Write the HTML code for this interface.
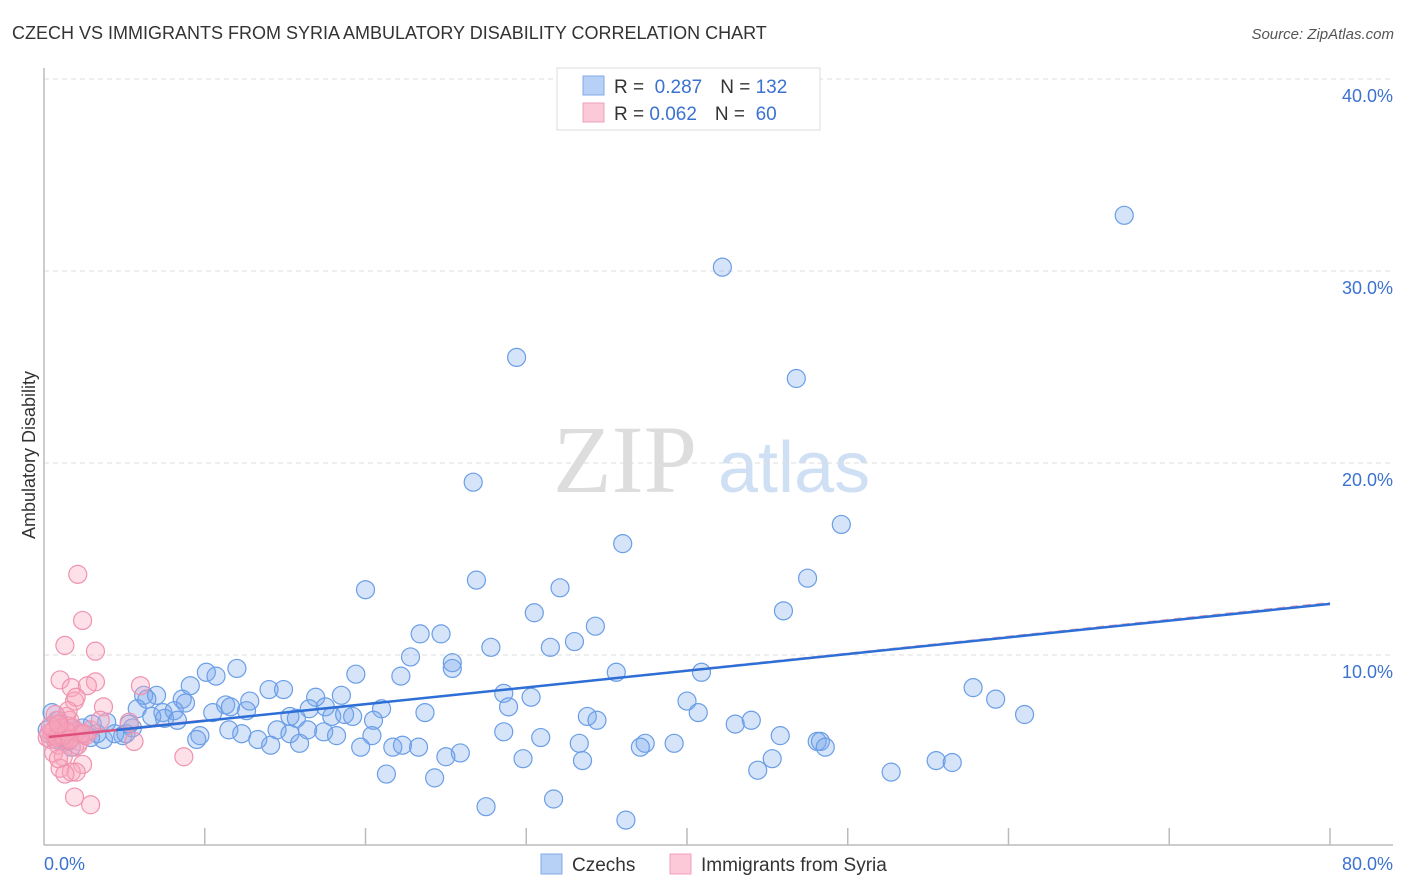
<!DOCTYPE html>
<html><head><meta charset="utf-8"><style>
body{margin:0;background:#fff;font-family:"Liberation Sans",sans-serif;}
svg{display:block}
</style></head><body>
<svg id="chart" width="1406" height="892" xmlns="http://www.w3.org/2000/svg">
<text x="12" y="39" font-size="18" fill="#333">CZECH VS IMMIGRANTS FROM SYRIA AMBULATORY DISABILITY CORRELATION CHART</text>
<text x="1394" y="39" font-size="15" fill="#555" font-style="italic" text-anchor="end">Source: ZipAtlas.com</text>
<g><text x="553" y="492" font-size="96" fill="#ddd" font-family="Liberation Serif,serif">ZIP</text><text x="718" y="492" font-size="72" fill="#cfe0f5">atlas</text></g>
<g id="grid"></g>
<g id="axes"></g>
<g id="marks"></g>
<g id="trends"></g>
<text x="35" y="455" font-size="18" fill="#333" text-anchor="middle" transform="rotate(-90 35 455)">Ambulatory Disability</text>
<text x="44" y="870" font-size="18" fill="#3b72d0">0.0%</text>
<text x="1393" y="870" font-size="18" fill="#3b72d0" text-anchor="end">80.0%</text>
<g>
<rect x="557" y="68" width="263" height="62" fill="#fff" stroke="#ddd"/>
<rect x="583" y="76" width="21" height="19" fill="#b7d0f5" stroke="#80a8e8"/>
<rect x="583" y="103" width="21" height="19" fill="#fbc9d8" stroke="#f0a0b8"/>
<text x="614" y="93" font-size="19" fill="#333">R = <tspan fill="#3b72d0">&#160;0.287</tspan><tspan dx="18">N = </tspan><tspan fill="#3b72d0">132</tspan></text>
<text x="614" y="120" font-size="19" fill="#333">R = <tspan fill="#3b72d0">0.062</tspan><tspan dx="18">N = </tspan><tspan fill="#3b72d0">&#160;60</tspan></text>
</g>
<g>
<rect x="541" y="854" width="21" height="20" fill="#b7d0f5" stroke="#80a8e8"/>
<text x="572" y="871" font-size="19" fill="#333">Czechs</text>
<rect x="670" y="854" width="21" height="20" fill="#fbc9d8" stroke="#f0a0b8"/>
<text x="701" y="871" font-size="19" fill="#333">Immigrants from Syria</text>
</g>
</svg>
<script>
const yTicks=[10,20,30,40];
const yTickLabels=["10.0%","20.0%","30.0%","40.0%"];
const xTicks=[10,20,30,40,50,60,70,80];
const czechX=[67.2,42.2,29.4,46.8,26.7,49.6,36.0,20.0,26.9,32.1,47.5,30.5,46.0,34.3,23.4,24.7,33.0,27.8,31.5,22.8,25.4,25.4,12.0,10.1,10.7,19.4,22.2,35.6,40.9,57.8,59.2,61.0,14.0,14.9,9.1,6.2,7.0,8.6,16.9,18.5,28.6,30.3,40.0,6.4,8.8,11.3,12.8,11.6,5.8,7.4,8.1,12.6,10.5,17.5,16.5,21.0,28.9,40.7,15.3,15.7,17.9,18.7,19.2,23.7,33.8,34.4,6.7,7.5,8.3,20.5,43.0,44.0,3.9,5.3,11.5,14.5,12.3,15.3,16.4,17.4,28.6,45.8,9.7,13.3,14.1,15.9,18.2,20.4,30.9,48.1,48.3,48.6,37.4,39.2,9.5,19.7,21.7,22.3,23.3,33.3,37.1,25.9,25.0,29.8,33.5,45.3,55.5,56.5,44.4,52.7,21.3,24.3,27.5,31.7,36.2,0.5,0.9,1.2,1.5,1.9,2.4,2.9,3.3,3.7,4.4,4.9,5.1,5.5,3.0,0.2,0.7,1.7];
const czechY=[32.9,30.2,25.5,24.4,19.0,16.8,15.8,13.4,13.9,13.5,14.0,12.2,12.3,11.5,11.1,11.1,10.7,10.4,10.4,9.9,9.6,9.3,9.3,9.1,8.9,9.0,8.9,9.1,9.1,8.3,7.7,6.9,8.2,8.2,8.4,7.9,7.9,7.7,7.8,7.9,8.0,7.8,7.6,7.7,7.5,7.4,7.6,7.3,7.2,7.0,7.1,7.1,7.0,7.3,7.2,7.2,7.3,7.0,6.8,6.7,6.8,6.9,6.8,7.0,6.8,6.6,6.8,6.7,6.6,6.6,6.4,6.6,6.5,6.4,6.1,6.1,5.9,5.9,6.1,6.0,6.0,5.8,5.8,5.6,5.3,5.4,5.8,5.8,5.7,5.5,5.5,5.2,5.4,5.4,5.6,5.2,5.2,5.3,5.2,5.4,5.2,4.9,4.7,4.6,4.5,4.6,4.5,4.4,4.0,3.9,3.8,3.6,2.1,2.5,1.4,7.0,6.6,5.7,5.5,6.1,6.2,5.7,5.9,5.6,5.9,5.8,5.9,6.2,6.4,6.1,5.6,5.2];
const syriaX=[2.1,2.4,1.3,3.2,1.0,1.7,1.9,1.4,3.2,2.7,6.0,2.0,3.7,5.3,0.8,1.0,1.6,1.1,0.7,0.4,1.7,2.2,0.9,1.9,0.6,1.2,2.1,5.6,8.7,1.0,2.4,1.7,2.0,1.3,1.9,2.9,1.5,2.6,2.9,1.3,0.7,1.1,3.5,0.2,0.9,0.5,1.0,1.5,2.0,0.3,0.6,1.2,1.8,2.3,0.8,1.4,0.4,1.6,2.5,0.9];
const syriaY=[14.2,11.8,10.5,10.2,8.7,8.3,7.6,6.8,8.6,8.4,8.4,7.8,7.3,6.5,6.6,6.4,6.6,6.1,5.8,5.6,5.7,5.5,5.3,5.2,4.9,4.7,5.3,5.5,4.7,4.1,4.3,3.9,3.9,3.8,2.6,2.2,7.1,5.8,6.1,5.6,6.9,6.2,6.6,5.7,4.6,6.0,5.9,6.3,6.0,5.9,6.1,5.8,6.2,5.9,5.7,6.0,6.3,5.6,5.9,6.4];
const czechTrend=[5.7,0.087]; // intercept, slope
const syriaTrend=[5.7,0.088];
const xs=v=>44+v*16.075, ys=v=>847-v*19.2;
const NS="http://www.w3.org/2000/svg";
function mk(t,a,p){const e=document.createElementNS(NS,t);for(const k in a)e.setAttribute(k,a[k]);p.appendChild(e);return e;}
const grid=document.getElementById('grid'),axes=document.getElementById('axes'),marks=document.getElementById('marks'),trends=document.getElementById('trends');
yTicks.forEach((t,i)=>{
 const l=mk('line',{x1:44,x2:1393,y1:ys(t),y2:ys(t),stroke:'#ddd','stroke-dasharray':'5,4'},grid);
 
 
 const tx=mk('text',{x:1393,y:ys(t)+23,'font-size':18,fill:'#3b72d0','text-anchor':'end'},grid);
 tx.textContent=yTickLabels[i];
 
 
});
mk('line',{x1:44,x2:44,y1:68,y2:845,stroke:'#bbb','stroke-width':1.5},axes);
mk('line',{x1:44,x2:1393,y1:845,y2:845,stroke:'#bbb','stroke-width':1.5},axes);
xTicks.forEach(t=>{
 const l=mk('line',{x1:xs(t),x2:xs(t),y1:828,y2:845,stroke:'#bbb','stroke-width':1.5},axes);
 
 
});
czechX.forEach((x,i)=>{
 const c=mk('circle',{cx:xs(x),cy:ys(czechY[i]),r:9,fill:'rgba(120,165,235,0.3)',stroke:'#6a9ee6','stroke-width':1.2},marks);
 
 
});
syriaX.forEach((x,i)=>{
 const c=mk('circle',{cx:xs(x),cy:ys(syriaY[i]),r:9,fill:'rgba(248,165,190,0.35)',stroke:'#ef93b0','stroke-width':1.2},marks);
 
 
});
const pd=mk('line',{x1:xs(0.3),y1:ys(syriaTrend[0]+syriaTrend[1]*0.3),x2:xs(80),y2:ys(syriaTrend[0]+syriaTrend[1]*80),stroke:'#e8a0b8','stroke-width':1.2,'stroke-dasharray':'8,5'},trends);


const ps=mk('line',{x1:xs(0.3),y1:ys(syriaTrend[0]+syriaTrend[1]*0.3),x2:xs(10),y2:ys(syriaTrend[0]+syriaTrend[1]*10),stroke:'#e0507e','stroke-width':2.5},trends);


const cl=mk('line',{x1:xs(4.5),y1:ys(czechTrend[0]+czechTrend[1]*4.5),x2:xs(80),y2:ys(czechTrend[0]+czechTrend[1]*80),stroke:'#2d6fd6','stroke-width':2.5},trends);


</script>
</body></html>
